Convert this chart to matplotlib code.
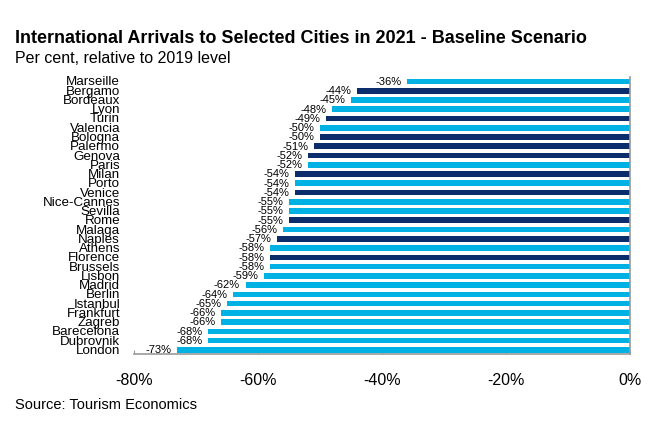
import matplotlib
matplotlib.use("Agg")
import matplotlib.pyplot as plt
from matplotlib.ticker import FuncFormatter

plt.rcParams['font.family'] = ['Liberation Sans', 'DejaVu Sans']

cities = ["Marseille", "Bergamo", "Bordeaux", "Lyon", "Turin", "Valencia", "Bologna",
          "Palermo", "Genova", "Paris", "Milan", "Porto", "Venice", "Nice-Cannes",
          "Sevilla", "Rome", "Malaga", "Naples", "Athens", "Florence", "Brussels",
          "Lisbon", "Madrid", "Berlin", "Istanbul", "Frankfurt", "Zagreb", "Barecelona",
          "Dubrovnik", "London"]
values = [-36, -44, -45, -48, -49, -50, -50, -51, -52, -52, -54, -54, -54, -55,
          -55, -55, -56, -57, -58, -58, -58, -59, -62, -64, -65, -66, -66, -68,
          -68, -73]
italian = ["Bergamo", "Turin", "Bologna", "Palermo", "Genova", "Milan", "Venice",
           "Rome", "Naples", "Florence"]
xticks = [-80, -60, -40, -20, 0]

light = "#00B2E3"
dark = "#0B2D6B"

fig = plt.figure(figsize=(6.69, 4.35), dpi=100)
ax = fig.add_axes([0.2003, 0.184, 0.7414, 0.637])

n = len(cities)
ypos = [n - 1 - i for i in range(n)]
colors = [dark if c in italian else light for c in cities]
ax.barh(ypos, values, height=0.6, color=colors, zorder=2)

for y, v in zip(ypos, values):
    ax.annotate(f"{v}%", xy=(v, y), xytext=(-4, 0.5), textcoords="offset points",
                ha="right", va="center", fontsize=8, color="black")

ax.set_yticks(ypos)
ax.set_yticklabels(cities, fontsize=9.6)
ax.tick_params(axis="y", length=0, pad=10)
for lbl in ax.get_yticklabels():
    lbl.set_verticalalignment("center")

ax.set_xlim(-80, 0)
ax.set_ylim(-0.45, n - 0.5)
ax.set_xticks(xticks)
ax.xaxis.set_major_formatter(FuncFormatter(lambda x, p: f"{int(round(x))}%"))
ax.tick_params(axis="x", direction="in", length=3, color="#999999", labelsize=11.5, pad=13)

for s in ["top", "left"]:
    ax.spines[s].set_visible(False)
for s in ["bottom", "right"]:
    ax.spines[s].set_color("#999999")
    ax.spines[s].set_linewidth(1.2)

fig.text(0.022, 0.912, "International Arrivals to Selected Cities in 2021 - Baseline Scenario",
         fontsize=13, fontweight="bold", ha="left", va="center")
fig.text(0.022, 0.866, "Per cent, relative to 2019 level", fontsize=11.5, ha="left", va="center")
fig.text(0.022, 0.068, "Source: Tourism Economics", fontsize=10.5, ha="left", va="center")

fig.savefig("out.png", dpi=100)
